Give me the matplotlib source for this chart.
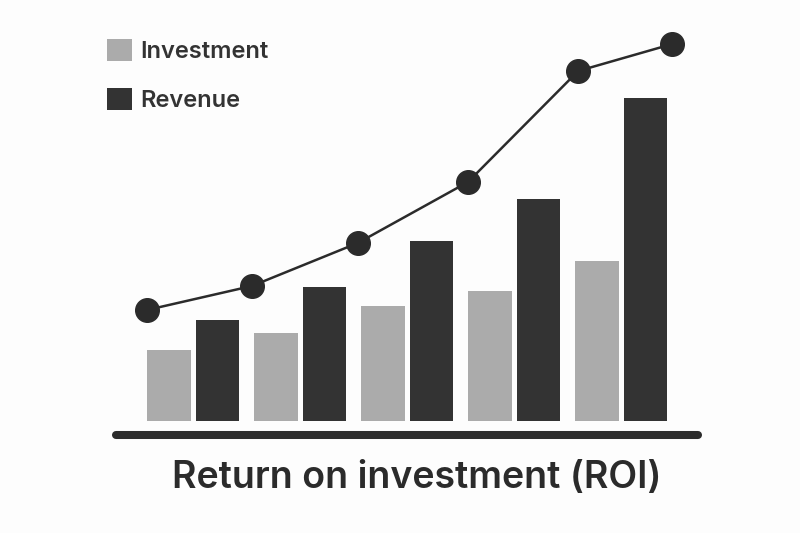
import matplotlib.pyplot as plt
from matplotlib.patches import Patch
import numpy as np

# data (baseline = 0, units ~ pixels of bar height)
groups = np.arange(5)
investment = [71, 88, 115, 130, 160]
revenue = [101, 134, 180, 222, 323]
roi_x = [-0.43, 0.55, 1.54, 2.57, 3.60, 4.48]
roi = [111, 135, 178, 239, 350, 377]

inv_color = '#ababab'
rev_color = '#333333'
ink = '#2b2b2b'

plt.rcParams['font.family'] = ['Inter', 'DejaVu Sans']

fig = plt.figure(figsize=(8, 5.33), dpi=100, facecolor='#fdfdfd')
ax = fig.add_axes([0, 0, 1, 1])
ax.set_facecolor('#fdfdfd')

# scale: 1 group = 107 px, group 0 centered at x=193 px; y 1 unit = 1 px, 0 at y=421 px
ax.set_xlim(-193 / 107, (800 - 193) / 107)
ax.set_ylim(-112, 421)

w = 0.405
ax.bar(groups - 0.224, investment, width=w, color=inv_color, zorder=2)
ax.bar(groups + 0.226, revenue, width=w, color=rev_color, zorder=2)

# baseline with rounded ends
ax.plot([-0.72, 4.72], [-14, -14], color=ink, lw=5.8, solid_capstyle='round', zorder=3)

# ROI line
ax.plot(roi_x, roi, color=ink, lw=1.8, marker='o', markersize=17,
        markerfacecolor=ink, markeredgecolor=ink, zorder=4)

ax.axis('off')

handles = [Patch(facecolor=inv_color, label='Investment'),
           Patch(facecolor=rev_color, label='Revenue')]
fig.legend(handles=handles, loc='upper left', bbox_to_anchor=(107 / 800, 1 - 39 / 533),
           frameon=False, borderpad=0, borderaxespad=0,
           handlelength=1.05, handleheight=1.05, handletextpad=0.34, labelspacing=1.05,
           prop={'weight': 'semibold', 'size': 17}, labelcolor='#333333')

fig.text(417 / 800, 1 - 478 / 533, 'Return on investment (ROI)', ha='center', va='center',
         fontsize=27, fontweight='semibold', color='#2b2b2b')

fig.savefig('out.png', dpi=100, facecolor=fig.get_facecolor())
